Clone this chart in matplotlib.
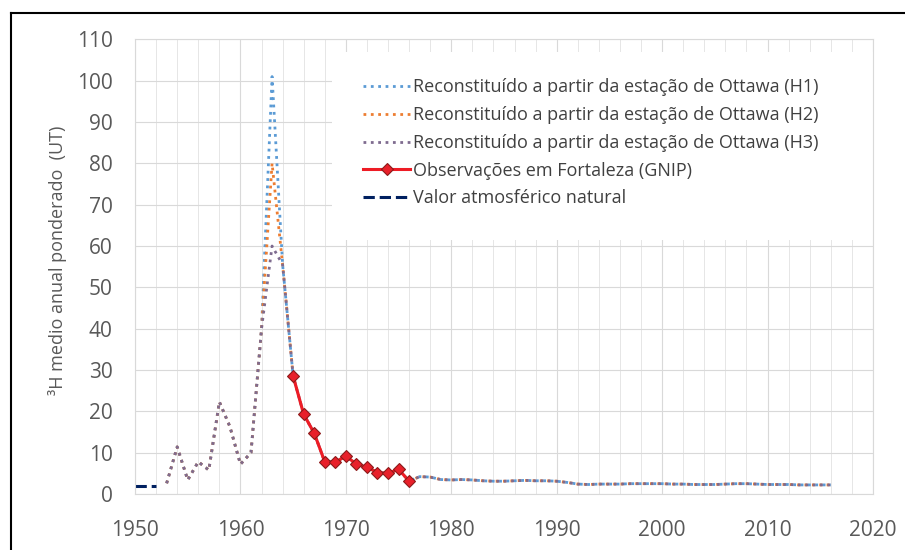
import matplotlib.pyplot as plt
from matplotlib.lines import Line2D
from matplotlib.patches import Rectangle

plt.rcParams['font.family'] = ['Open Sans', 'DejaVu Sans']

# Reconstituição a partir de Ottawa (valores anuais, UT)
anos = list(range(1953, 2017))
base_inicio = [2.6, 11.4, 3.4, 7.8, 5.8, 22.3, 16.3, 7.2, 10.0, 40.0]  # 1953-1962
pico_h1 = [101.0, 55.5]  # 1963-1964
pico_h2 = [80.0, 55.5]
pico_h3 = [60.0, 55.5]
base_fim = [28.5, 19.3, 14.7, 7.8, 7.7, 9.2, 7.2, 6.5, 5.2, 5.0, 6.0, 3.1,  # 1965-1976
            4.2, 4.1, 3.5, 3.4, 3.5, 3.4, 3.2, 3.1, 3.1, 3.2,               # 1977-1986
            3.3, 3.2, 3.2, 3.1, 2.8, 2.4, 2.3, 2.4, 2.4, 2.4,               # 1987-1996
            2.5, 2.5, 2.5, 2.5, 2.4, 2.4, 2.3, 2.3, 2.3, 2.4,               # 1997-2006
            2.5, 2.5, 2.4, 2.3, 2.3, 2.3, 2.2, 2.2, 2.2, 2.2]               # 2007-2016
h1 = base_inicio + pico_h1 + base_fim
h2 = base_inicio + pico_h2 + base_fim
h3 = base_inicio + pico_h3 + base_fim

# Observações GNIP em Fortaleza
anos_obs = list(range(1965, 1977))
obs = [28.5, 19.3, 14.7, 7.8, 7.7, 9.2, 7.2, 6.5, 5.2, 5.0, 6.0, 3.1]

# Valor atmosférico natural
anos_nat = [1950, 1952]
natural = [2.0, 2.0]

rotulos = ['Reconstituído a partir da estação de Ottawa (H1)',
           'Reconstituído a partir da estação de Ottawa (H2)',
           'Reconstituído a partir da estação de Ottawa (H3)',
           'Observações em Fortaleza (GNIP)',
           'Valor atmosférico natural']

fig = plt.figure(figsize=(9.05, 5.5), dpi=100)
ax = fig.add_axes([0.1492, 0.1018, 0.8154, 0.8266])

ax.plot(anos, h1, ':', color='#5B9BD5', lw=2, label=rotulos[0])
ax.plot(anos, h2, ':', color='#ED7D31', lw=2, label=rotulos[1])
ax.plot(anos, h3, ':', color='#7E6B8F', lw=2, label=rotulos[2])
ax.plot(anos_obs, obs, '-', color='#EE1C25', lw=2.2, marker='D', ms=6.5,
        mfc='#E8202A', mec='#8B1A1A', mew=0.8, label=rotulos[3])
ax.plot(anos_nat, natural, '--', color='#002060', lw=2.2, label=rotulos[4])

ax.set_xlim(1950, 2020)
ax.set_ylim(0, 110)
ax.set_xticks(range(1950, 2021, 10))
ax.set_xticks(range(1950, 2021, 2), minor=True)
ax.set_yticks(range(0, 111, 10))
ax.grid(which='major', color='#D9D9D9', lw=0.8)
ax.grid(which='minor', axis='x', color='#E6E6E6', lw=0.7)
ax.set_axisbelow(True)
for s in ax.spines.values():
    s.set_color('#D9D9D9')
    s.set_linewidth(0.8)
ax.tick_params(which='both', length=0, labelsize=15, colors='#595959')
ax.tick_params(axis='x', pad=19)
ax.tick_params(axis='y', pad=16)
ax.set_ylabel('³H medio anual ponderado  (UT)', fontsize=13, color='#595959')
ax.yaxis.set_label_coords(-0.092, 0.515)

# fundo branco da legenda (cobre a grelha)
ax.add_patch(Rectangle((0.267, 0.5587), 0.733, 0.414, transform=ax.transAxes,
                       facecolor='white', edgecolor='none', zorder=1))

leg = ax.legend(loc='upper left', bbox_to_anchor=(0.309, 0.914), fontsize=13,
                frameon=False, handlelength=2.6, handletextpad=0.15,
                labelspacing=0.54, borderpad=0, borderaxespad=0)
for t in leg.get_texts():
    t.set_color('#404040')

# moldura da figura
fig.add_artist(Line2D([11 / 905, 11 / 905], [0, 1 - 13 / 550], color='black', lw=1.5))
fig.add_artist(Line2D([11 / 905, 1], [1 - 13 / 550, 1 - 13 / 550], color='black', lw=1.5))

fig.savefig('out.png', dpi=100)
